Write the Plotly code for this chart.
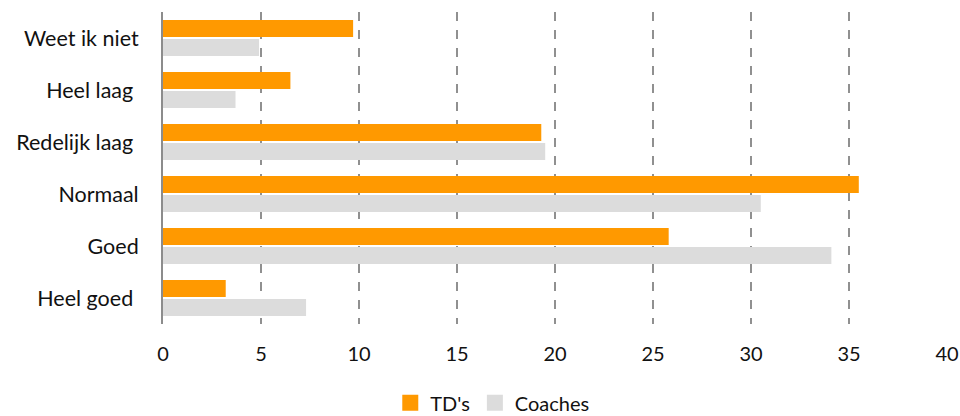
import plotly.graph_objects as go

categories = ["Weet ik niet", "Heel laag", "Redelijk laag", "Normaal", "Goed", "Heel goed"]
tick_labels = ["Weet ik niet", "Heel laag\u00a0", "Redelijk laag\u00a0", "Normaal", "Goed", "Heel goed\u00a0"]
tds = [9.7, 6.5, 19.3, 35.5, 25.8, 3.2]
coaches = [4.9, 3.7, 19.5, 30.5, 34.1, 7.3]
x_ticks = [0, 5, 10, 15, 20, 25, 30, 35, 40]
series_names = ["TD's", "Coaches"]
series_colors = ["#FF9900", "#DCDCDC"]

FONT = "Lato"

fig = go.Figure()
for name, vals, col in zip(series_names, [tds, coaches], series_colors):
    fig.add_trace(go.Bar(y=categories, x=vals, name=name, orientation="h",
                         marker=dict(color=col, line=dict(width=0)), showlegend=False))
# legend-only entries with larger square swatches
for name, col in zip(series_names, series_colors):
    fig.add_trace(go.Scatter(x=[None], y=[None], mode="markers", name=name,
                             marker=dict(symbol="square", size=16, color=col)))

fig.update_layout(
    width=960, height=416,
    margin=dict(l=163, r=13, t=12, b=92, autoexpand=False),
    paper_bgcolor="white", plot_bgcolor="white",
    barmode="group", bargap=0.27, bargroupgap=0.1,
    font=dict(family=FONT, size=20, color="#111111"),
    showlegend=True,
    legend=dict(orientation="h", x=0.42, xanchor="center", yref="container",
                y=0.032, yanchor="middle",
                font=dict(size=20), itemwidth=30, traceorder="normal",
                tracegroupgap=0, itemsizing="trace"),
    xaxis=dict(range=[0, 40], tickvals=x_ticks, showgrid=True, gridcolor="#909090",
               griddash="dash", gridwidth=1.6, zeroline=False, showline=False,
               ticks="", ticklabelstandoff=16, tickfont=dict(size=20), automargin=False),
    yaxis=dict(categoryorder="array", categoryarray=categories, autorange="reversed",
               tickmode="array", tickvals=categories, ticktext=tick_labels,
               showline=True, linecolor="#8c8c8c", linewidth=2, showgrid=False,
               ticks="", ticklabelstandoff=18, tickfont=dict(size=21.5), automargin=False),
)

fig.write_html("out.html", config={"displayModeBar": False},
               post_script="document.body.style.margin='0';document.body.style.padding='0';")
